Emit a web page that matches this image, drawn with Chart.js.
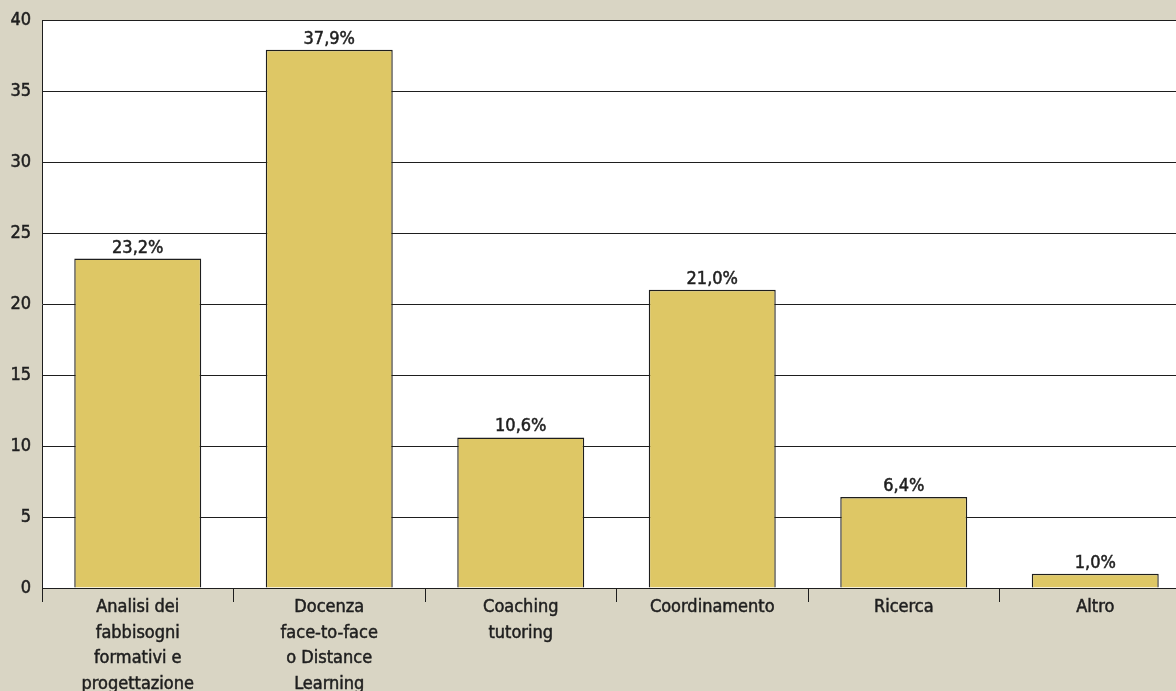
<!DOCTYPE html>
<html>
<head>
<meta charset="utf-8">
<script src="https://cdn.jsdelivr.net/npm/chart.js@4/dist/chart.umd.min.js"></script>
<style>
    html, body { margin: 0; padding: 0; background: #d9d5c4; overflow: hidden; }
    #wrap { width: 1200px; height: 691px; }
</style>
</head>
<body>
<div id="wrap"><canvas id="bar-chart" width="1200" height="691"></canvas></div>
<script>
// Categories (multi-line labels) and values
const categories = [
    ['Analisi dei', 'fabbisogni', 'formativi e', 'progettazione'],
    ['Docenza', 'face-to-face', 'o Distance', 'Learning'],
    ['Coaching', 'tutoring'],
    ['Coordinamento'],
    ['Ricerca'],
    ['Altro']
];
const shares = [23.2, 37.9, 10.6, 21.0, 6.4, 1.0];
const yTicks = [0, 5, 10, 15, 20, 25, 30, 35, 40];

const FONT = "'DejaVu Sans Condensed', 'DejaVu Sans', sans-serif";
const INK = '#1e1e1e';
const LINE = '#1e1e1e';
const STROKE = 0.5; // thickens the condensed face a little

// White plot area on beige page
const plotBackground = {
    id: 'plotBackground',
    beforeDraw(chart) {
        const { ctx, chartArea } = chart;
        ctx.save();
        ctx.fillStyle = '#ffffff';
        ctx.fillRect(chartArea.left, chartArea.top, chartArea.right - chartArea.left, chartArea.bottom - chartArea.top);
        ctx.restore();
    }
};

// Percent labels over the bars
const valueLabels = {
    id: 'valueLabels',
    afterDatasetsDraw(chart) {
        const { ctx } = chart;
        const meta = chart.getDatasetMeta(0);
        ctx.save();
        ctx.font = `18px ${FONT}`;
        ctx.fillStyle = INK;
        ctx.strokeStyle = INK;
        ctx.lineWidth = STROKE;
        ctx.textAlign = 'center';
        ctx.textBaseline = 'alphabetic';
        meta.data.forEach((bar, i) => {
            const txt = shares[i].toFixed(1).replace('.', ',') + '%';
            ctx.strokeText(txt, bar.x, bar.y - 6);
            ctx.fillText(txt, bar.x, bar.y - 6);
        });
        ctx.restore();
    }
};

new Chart(document.getElementById('bar-chart').getContext('2d'), {
    type: 'bar',
    data: {
        labels: categories,
        datasets: [{
            data: shares,
            backgroundColor: '#dec765',
            borderColor: LINE,
            borderWidth: 1.4,
            barPercentage: 0.663,
            categoryPercentage: 1.0
        }]
    },
    options: {
        responsive: false,
        animation: false,
        layout: { padding: { top: 0, right: 9, left: 0, bottom: 0 } },
        plugins: {
            legend: { display: false },
            tooltip: { enabled: false }
        },
        scales: {
            x: {
                offset: true,
                afterFit: (scale) => { scale.height = 103; },
                grid: {
                    offset: true,
                    drawOnChartArea: false,
                    drawTicks: true,
                    tickLength: 14,
                    color: LINE,
                    lineWidth: 1
                },
                border: { display: true, color: LINE },
                ticks: {
                    color: INK,
                    textStrokeColor: INK,
                    textStrokeWidth: STROKE,
                    font: { family: FONT, size: 18, lineHeight: 1.44 },
                    padding: -8,
                    maxRotation: 0,
                    autoSkip: false
                }
            },
            y: {
                min: 0,
                max: 40,
                afterFit: (scale) => { scale.width = 42; },
                afterBuildTicks: (scale) => { scale.ticks = yTicks.map(v => ({ value: v })); },
                grid: {
                    drawTicks: false,
                    color: LINE,
                    lineWidth: 1
                },
                border: { display: true, color: LINE },
                ticks: {
                    color: INK,
                    textStrokeColor: INK,
                    textStrokeWidth: STROKE,
                    // lineHeight 1 keeps the top of the plot at y=20 (half label + padding)
                    font: { family: FONT, size: 18, lineHeight: 1.0 },
                    padding: 11
                }
            }
        }
    },
    plugins: [plotBackground, valueLabels]
});
</script>
</body>
</html>
